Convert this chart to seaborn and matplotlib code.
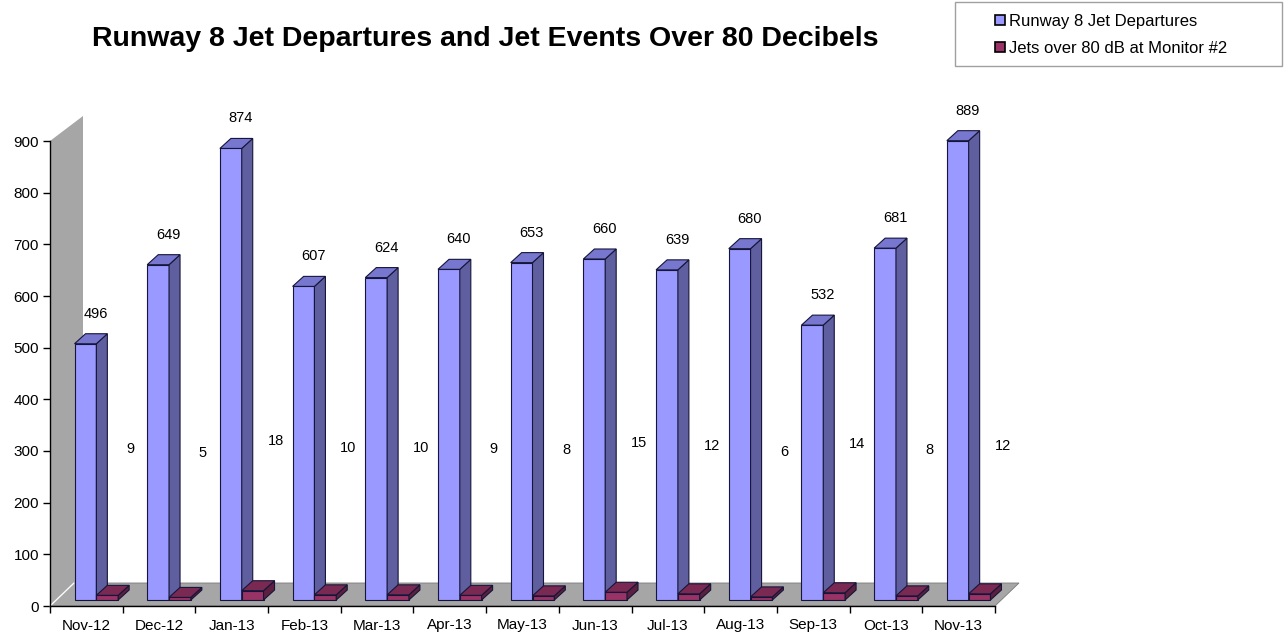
import numpy as np
import pandas as pd
import matplotlib
matplotlib.use('Agg')
import matplotlib.pyplot as plt
import seaborn as sns
from matplotlib.patches import Polygon, Rectangle, Patch
from matplotlib.transforms import ScaledTranslation

# chart data
months = ['Nov-12', 'Dec-12', 'Jan-13', 'Feb-13', 'Mar-13', 'Apr-13', 'May-13',
          'Jun-13', 'Jul-13', 'Aug-13', 'Sep-13', 'Oct-13', 'Nov-13']
departures = [496, 649, 874, 607, 624, 640, 653, 660, 639, 680, 532, 681, 889]
loud_jets = [9, 5, 18, 10, 10, 9, 8, 15, 12, 6, 14, 8, 12]
series_names = ['Runway 8 Jet Departures', 'Jets over 80 dB at Monitor #2']
y_ticks = [0, 100, 200, 300, 400, 500, 600, 700, 800, 900]

df = pd.DataFrame({
    'Month': months * 2,
    'Count': departures + loud_jets,
    'Series': [series_names[0]] * len(months) + [series_names[1]] * len(months),
})

# colours (front, top, side)
BLUE = ('#9999FF', '#7777D0', '#5F5FA0')
RED = ('#993366', '#7A2952', '#5C1F3D')
GREY = '#A6A6A6'

sns.set_style('white')
plt.rcParams['font.family'] = ['Liberation Sans', 'DejaVu Sans']
plt.rcParams['text.color'] = 'black'
plt.rcParams['xtick.color'] = 'black'
plt.rcParams['ytick.color'] = 'black'
plt.rcParams['axes.labelcolor'] = 'black'

W, H = 1284, 639
fig = plt.figure(figsize=(W / 100, H / 100), dpi=100)
ax = fig.add_axes([50 / W, (H - 606) / H, 945 / W, 465 / H])

sns.barplot(data=df, x='Month', y='Count', hue='Series', palette=[BLUE[0], RED[0]],
            width=0.6, dodge=True, saturation=1, legend=False, ax=ax,
            edgecolor='#15153a', linewidth=0.8)
ax.set_xlim(-0.5, len(months) - 0.5)
ax.set_ylim(0, 900)

# pixel -> data helpers for the fake 3D depth
PX_X = 945 / len(months)
PX_Y = 465 / 900.0
def dxp(px):
    return px / PX_X
def dyp(px):
    return px / PX_Y

# floor and back wall
n = len(months)
floor = Polygon([(-0.5, 0), (n - 0.5, 0), (n - 0.5 + dxp(24), dyp(23)), (-0.5 + dxp(24), dyp(23))],
                closed=True, facecolor=GREY, edgecolor='#7a7a7a', lw=0.6, zorder=0.5,
                clip_on=False, transform=ax.transData)
wall = Polygon([(-0.5, 0), (-0.5, 900), (-0.5 + dxp(33), 900 + dyp(25)), (-0.5 + dxp(33), dyp(23))],
               closed=True, facecolor=GREY, edgecolor='none', zorder=0.4,
               clip_on=False, transform=ax.transData)
ax.add_patch(wall)
ax.add_patch(floor)
ax.plot([-0.5, -0.5 + dxp(24)], [0, dyp(23)], color='white', lw=1, zorder=0.6, clip_on=False)

# bars sit a bit back on the floor
shift = ax.transData + ScaledTranslation(10 / 100, 6 / 100, fig.dpi_scale_trans)
ddx, ddy = dxp(11), dyp(10)

bars = sorted(ax.patches[:2 * n], key=lambda p: p.get_x())
for i, p in enumerate(bars):
    cols = BLUE if i % 2 == 0 else RED
    z = 2 if i % 2 == 0 else 3
    x0, w, h = p.get_x(), p.get_width(), p.get_height()
    p.set_transform(shift)
    p.set_clip_on(False)
    p.set_zorder(z)
    side = Polygon([(x0 + w, 0), (x0 + w + ddx, ddy), (x0 + w + ddx, h + ddy), (x0 + w, h)],
                   closed=True, facecolor=cols[2], edgecolor='#15153a', lw=0.8,
                   transform=shift, clip_on=False, zorder=z)
    top = Polygon([(x0, h), (x0 + ddx, h + ddy), (x0 + w + ddx, h + ddy), (x0 + w, h)],
                  closed=True, facecolor=cols[1], edgecolor='#15153a', lw=0.8,
                  transform=shift, clip_on=False, zorder=z)
    ax.add_patch(side)
    ax.add_patch(top)
    if i % 2 == 0:
        ax.text(x0 + w / 2 + dxp(10), h + 58, f'{int(round(h))}', ha='center', va='center',
                fontsize=10.5, transform=shift, zorder=5)
    else:
        ax.text(x0 + w / 2 + dxp(23), 276 + 1.8 * h, f'{int(round(h))}', ha='center', va='center',
                fontsize=10.5, transform=shift, zorder=5)

# axes styling
for s in ['top', 'right']:
    ax.spines[s].set_visible(False)
for s in ['left', 'bottom']:
    ax.spines[s].set_color('black')
    ax.spines[s].set_linewidth(1)
    ax.spines[s].set_zorder(4)

ax.set_xticks(np.arange(-0.5, n, 1))
ax.set_xticklabels([])
ax.set_xticks(np.arange(n), minor=True)
ax.set_xticklabels(months, minor=True)
ax.tick_params(axis='x', which='major', length=5, width=1, color='black', direction='out', bottom=True)
ax.tick_params(axis='x', which='minor', length=0, pad=9, labelsize=11)
ax.set_yticks(y_ticks)
ax.tick_params(axis='y', length=5, width=1, color='black', direction='out', left=True, pad=3, labelsize=11)
ax.set_xlabel('')
ax.set_ylabel('')

fig.text(485 / W, 1 - 39 / H, 'Runway 8 Jet Departures and Jet Events Over 80 Decibels',
         ha='center', va='center', fontsize=20.5, fontweight='bold')

# legend with its own frame
fig.patches.append(Rectangle((955 / W, 1 - 66 / H), 327 / W, 64 / H, transform=fig.transFigure,
                             fill=False, edgecolor='#a0a0a0', lw=1))
handles = [Patch(facecolor=BLUE[0], edgecolor='black', lw=1.2),
           Patch(facecolor=RED[0], edgecolor='black', lw=1.2)]
fig.legend(handles, series_names, loc='upper left', bbox_to_anchor=(995 / W, 1 - 14 / H),
           frameon=False, fontsize=12, handlelength=0.6, handleheight=0.6,
           handletextpad=0.25, labelspacing=0.72, borderpad=0, borderaxespad=0)

fig.savefig('out.png', dpi=100)
